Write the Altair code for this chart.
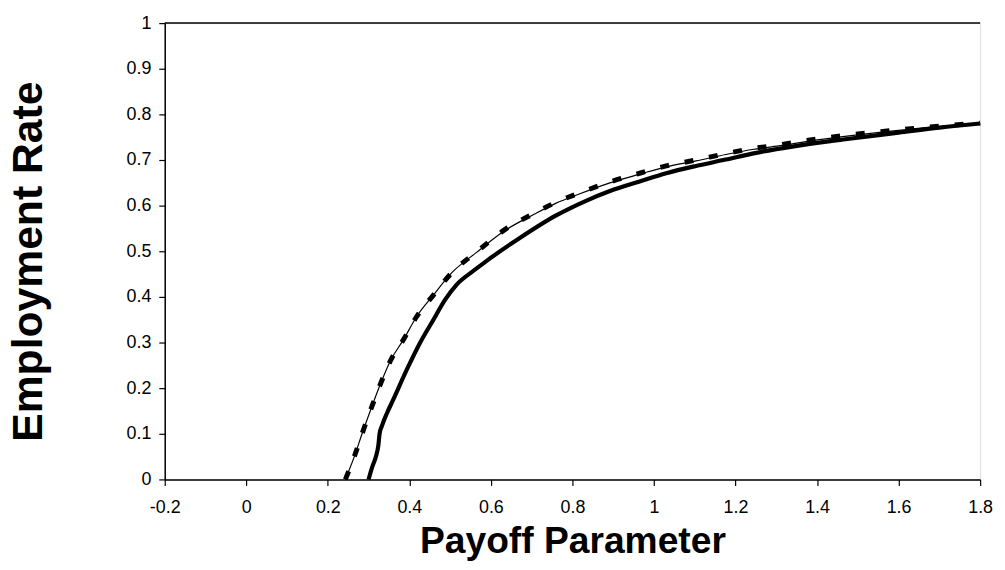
import altair as alt
import pandas as pd

# Thick solid series
thick_x = [0.300, 0.308, 0.318, 0.324, 0.327, 0.333, 0.345, 0.361, 0.394, 0.426, 0.459, 0.487,
           0.515, 0.560, 0.588, 0.669, 0.759, 0.832, 0.892, 0.965, 1.030, 1.103, 1.176, 1.241,
           1.343, 1.464, 1.600, 1.700, 1.800]
thick_y = [0.000, 0.025, 0.050, 0.075, 0.100, 0.118, 0.145, 0.176, 0.241, 0.299, 0.350, 0.393,
           0.426, 0.459, 0.478, 0.528, 0.578, 0.610, 0.632, 0.653, 0.671, 0.687, 0.701, 0.714,
           0.730, 0.745, 0.760, 0.771, 0.780]

# Dashed series
dash_x = [0.243, 0.265, 0.284, 0.309, 0.329, 0.353, 0.386, 0.418, 0.459, 0.503, 0.564, 0.637,
          0.706, 0.759, 0.815, 0.892, 0.965, 1.030, 1.103, 1.176, 1.241, 1.306, 1.400, 1.500,
          1.600, 1.700, 1.800]
dash_y = [0.000, 0.050, 0.100, 0.162, 0.209, 0.259, 0.307, 0.357, 0.404, 0.452, 0.498, 0.549,
          0.583, 0.607, 0.627, 0.652, 0.671, 0.687, 0.700, 0.714, 0.725, 0.733, 0.746, 0.757,
          0.766, 0.774, 0.781]

# Thin solid series
thin_x = [0.243, 0.265, 0.284, 0.309, 0.329, 0.353, 0.386, 0.418, 0.459, 0.503, 0.564, 0.637,
          0.706, 0.759, 0.815, 0.892, 0.965, 1.030, 1.103, 1.176, 1.241, 1.306, 1.400, 1.500,
          1.600, 1.700, 1.800]
thin_y = [0.000, 0.050, 0.100, 0.162, 0.209, 0.259, 0.307, 0.357, 0.404, 0.452, 0.497, 0.547,
          0.581, 0.605, 0.625, 0.650, 0.669, 0.685, 0.698, 0.712, 0.723, 0.731, 0.744, 0.755,
          0.765, 0.773, 0.780]

x_ticks = [-0.2, 0, 0.2, 0.4, 0.6, 0.8, 1.0, 1.2, 1.4, 1.6, 1.8]
y_ticks = [0, 0.1, 0.2, 0.3, 0.4, 0.5, 0.6, 0.7, 0.8, 0.9, 1.0]

thick_df = pd.DataFrame({"x": thick_x, "y": thick_y, "i": range(len(thick_x))})
dash_df = pd.DataFrame({"x": dash_x, "y": dash_y, "i": range(len(dash_x))})
thin_df = pd.DataFrame({"x": thin_x, "y": thin_y, "i": range(len(thin_x))})

FONT = "Liberation Sans"

xscale = alt.Scale(domain=[-0.2, 1.8], nice=False, zero=False)
yscale = alt.Scale(domain=[0, 1], nice=False)

xaxis = alt.Axis(
    values=x_ticks, labelExpr="'' + round(datum.value*10)/10", grid=False,
    domainColor="black", domainWidth=1.5, tickColor="black", tickSize=6, tickWidth=1.2,
    labelFont=FONT, labelFontSize=18, labelColor="black", labelPadding=13,
    labelOverlap=False, labelFlush=False,
    title="Payoff Parameter", titleFont=FONT, titleFontSize=37.5, titleFontWeight="bold",
    titleColor="black", titleBaseline="alphabetic", titleY=74, titleX=411,
)
yaxis = alt.Axis(
    values=y_ticks, labelExpr="'' + round(datum.value*10)/10", grid=False,
    domainColor="black", domainWidth=1.5, tickColor="black", tickSize=6, tickWidth=1.2,
    labelFont=FONT, labelFontSize=18, labelColor="black", labelPadding=8,
    labelOverlap=False, labelFlush=False,
    title="Employment Rate", titleFont=FONT, titleFontSize=43, titleFontWeight="bold",
    titleColor="black", titleAngle=-90, titleBaseline="middle", titleX=-137, titleY=240,
)

thick = alt.Chart(thick_df).mark_line(color="black", strokeWidth=4.2, interpolate="monotone").encode(
    x=alt.X("x:Q", scale=xscale, axis=xaxis),
    y=alt.Y("y:Q", scale=yscale, axis=yaxis),
    order="i:Q",
)
thin = alt.Chart(thin_df).mark_line(color="black", strokeWidth=1.2, interpolate="monotone").encode(
    x=alt.X("x:Q", scale=xscale), y=alt.Y("y:Q", scale=yscale), order="i:Q"
)
dashed = alt.Chart(dash_df).mark_line(color="black", strokeWidth=5, strokeDash=[9, 16],
                                      interpolate="monotone").encode(
    x=alt.X("x:Q", scale=xscale), y=alt.Y("y:Q", scale=yscale), order="i:Q"
)
top = alt.Chart(pd.DataFrame({"v": [1.0]})).mark_rule(color="black", strokeWidth=1.5).encode(
    y=alt.Y("v:Q", scale=yscale)
)

chart = alt.layer(thick, thin, dashed, top).properties(
    width=822, height=460,
    autosize=alt.AutoSizeParams(type="none"),
    padding={"left": 158, "top": 13, "right": 17, "bottom": 81},
).configure_view(stroke="#808080", strokeWidth=1.5).configure(background="white")

chart.save("out.html", embed_options={"renderer": "svg", "actions": False})
